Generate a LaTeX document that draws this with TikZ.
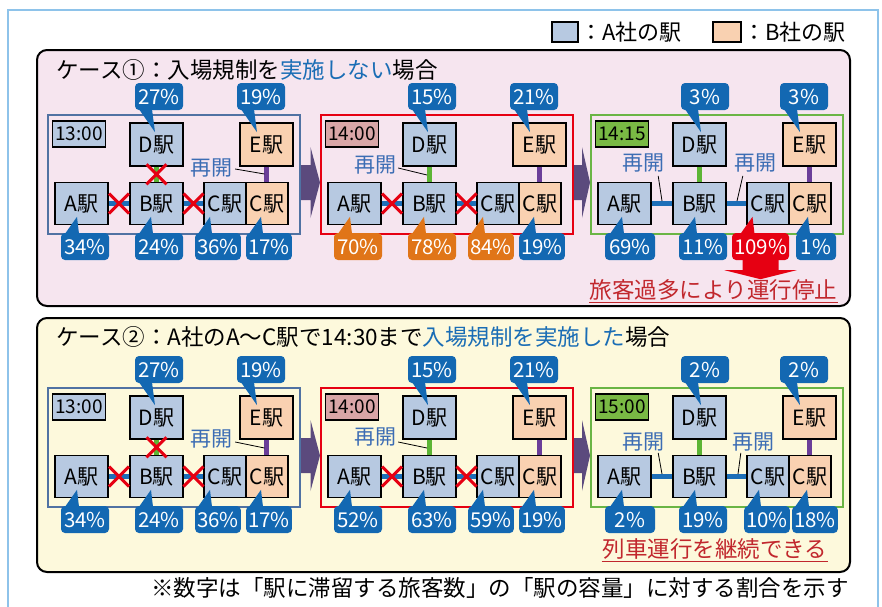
\documentclass[tikz,border=0pt]{standalone}
\usepackage{fontspec}
\setmainfont{Noto Sans CJK JP}
\usepackage{xcolor}
\definecolor{stnblue}{HTML}{B7C9E1}
\definecolor{stnpeach}{HTML}{F9D1B1}
\definecolor{callblue}{HTML}{1368B2}
\definecolor{callorange}{HTML}{E07518}
\definecolor{alertred}{HTML}{E60012}
\definecolor{linkblue}{HTML}{1D6FB8}
\definecolor{linkgreen}{HTML}{5DB535}
\definecolor{linkpurple}{HTML}{6B3E99}
\definecolor{frameslate}{HTML}{5072A3}
\definecolor{framegreen}{HTML}{6AB545}
\definecolor{timepink}{HTML}{D9A6A7}
\definecolor{timegreen}{HTML}{79B944}
\definecolor{stagepurple}{HTML}{5B4A7D}
\definecolor{reopenblue}{HTML}{3C6DB4}
\definecolor{titleblue}{HTML}{1A6DB5}
\definecolor{outerblue}{HTML}{8EC3EA}
\definecolor{pinkbg}{HTML}{F6E5EF}
\definecolor{yellowbg}{HTML}{FDF9DC}
\definecolor{statusred}{HTML}{C1272D}
\usepackage{tikz}
\usetikzlibrary{calc,shapes.misc}
\tikzset{
    panel/.style={draw=black, line width=2, rounded corners=10, anchor=north west, inner sep=0, outer sep=0},
    stageframe/.style={line width=2, minimum width=252, minimum height=119, anchor=north west, inner sep=0, outer sep=0},
    station/.style={draw=black, line width=1.2, minimum width=53, minimum height=42, inner sep=0, font=\fontsize{21}{21}\selectfont},
    stnA/.style={station, fill=stnblue},
    stnB/.style={station, fill=stnpeach},
    timebox/.style={draw=black, line width=1.2, minimum width=53, minimum height=26, inner sep=0, font=\fontsize{19}{19}\selectfont},
    pctbox/.style={rounded corners=4, text=white, minimum height=27, inner xsep=2, inner ysep=0, font=\fontsize{20.5}{20.5}\selectfont},
    link/.style={line width=5},
    cutmark/.style={cross out, draw=alertred, line width=3, minimum size=17, inner sep=0},
    reopen/.style={text=reopenblue, inner sep=0, font=\fontsize{21}{21}\selectfont},
    leader/.style={black, line width=0.8},
    casetitle/.style={anchor=west, inner sep=0, font=\fontsize{22.5}{22.5}\selectfont},
    keytext/.style={anchor=west, inner sep=0, font=\fontsize{22}{22}\selectfont},
    status/.style={text=statusred, inner xsep=1, inner ysep=2, font=\fontsize{22.5}{22.5}\selectfont},
    statusline/.style={statusred, line width=1.2}
}
% one time step: frame, clock, stations and lines
\newcommand\stationset[3]{%
  \node[stageframe, draw=#1] (F) at (0,0) {};
  \node[timebox, fill=#3] (T) at (31,19) {#2};
  \node[stnA, minimum height=43] (D) at (108.5,29.5) {D駅};
  \node[stnB, minimum height=43] (E) at (218.5,29.5) {E駅};
  \node[stnA] (A) at (33.5,88.5) {A駅};
  \node[stnA] (B) at (108.5,88.5) {B駅};
  \node[stnA, minimum width=42] (CA) at (177,88.5) {C駅};
  \node[stnB, minimum width=42] (CB) at (219,88.5) {C駅};
  \draw[link, linkblue] (A) -- (B);
  \draw[link, linkblue] (B) -- (CA);
  \draw[link, linkgreen] (D) -- (B);
  \draw[link, linkpurple] (E.south) -- (E.south |- CB.north);
}
% percentage above a station
\newcommand\topcall[3]{%
  \node[pctbox, fill=callblue, minimum width=48] (#1p) at (#2,-18.5) {#3};
  \fill[callblue] ([xshift=-20,yshift=1]#1p.south) -- ([xshift=-7,yshift=1]#1p.south) -- ([xshift=-4,yshift=-22]#1p.south) -- cycle;
}
% percentage below a station
\newcommand\botcall[5]{%
  \node[pctbox, fill=#3, minimum width=#4] (#1p) at (#2,131.5) {#5};
  \fill[#3] ([xshift=-20,yshift=-1]#1p.north) -- ([xshift=-6,yshift=-1]#1p.north) -- ([xshift=-8,yshift=16]#1p.north) -- cycle;
}
% block arrow between two time steps
\newcommand\stagearrow[2]{%
  \coordinate (sa) at ($(#1.east)+(1,8)$);
  \coordinate (sb) at ($(#2.west)+(-1,8)$);
  \coordinate (sm) at ($(sa)!0.5!(sb)$);
  \fill[stagepurple] ($(sa)+(0,-17.5)$) -- ($(sm)+(0,-17.5)$) -- ($(sm)+(0,-35.5)$) -- (sb)
    -- ($(sm)+(0,35.5)$) -- ($(sm)+(0,17.5)$) -- ($(sa)+(0,17.5)$) -- cycle;
}

\begin{document}
\begin{tikzpicture}[x=1pt, y=-1pt]
\useasboundingbox (0,0) rectangle (882,606);
\draw[outerblue, line width=1.5] (8,607) -- (8,10) -- (878,10) -- (878,607);

% legend
\node[stnA, minimum width=26, minimum height=20] (keyA) at (565,32) {};
\node[keytext] (keyAtext) at (580,32) {：A社の駅};
\node[stnB, minimum width=28, minimum height=20] (keyB) at (727,32) {};
\node[keytext] (keyBtext) at (743,32) {：B社の駅};

% case 1
\node[panel, fill=pinkbg, minimum width=813, minimum height=256] (case1) at (37,50) {};
\node[casetitle] (title1) at (56,70) {ケース①：入場規制を{\color{titleblue}実施しない}場合};

\begin{scope}[shift={(48,115)}, name prefix=p1a-]
  \stationset{frameslate}{13:00}{stnblue}
  \path (A) -- node[cutmark] (xAB) {} (B);
  \path (B) -- node[cutmark] (xBC) {} (CA);
  \path (D) -- node[cutmark] (xDB) {} (B);
  \node[reopen] (R1) at (163.5,53) {再開};
  \coordinate (J1) at (216.5,59);
  \draw[leader] ([xshift=2.5,yshift=-1]R1.east) -- (J1);
  \topcall{D}{111}{27\%}
  \topcall{E}{213}{19\%}
  \botcall{A}{37}{callblue}{48}{34\%}
  \botcall{B}{111}{callblue}{48}{24\%}
  \botcall{CA}{170}{callblue}{40}{36\%}
  \botcall{CB}{221}{callblue}{40}{17\%}
\end{scope}

\begin{scope}[shift={(321,115)}, name prefix=p1b-]
  \stationset{alertred}{14:00}{timepink}
  \path (A) -- node[cutmark] (xAB) {} (B);
  \path (B) -- node[cutmark] (xBC) {} (CA);
  \node[reopen] (R1) at (54,50) {再開};
  \coordinate (J1) at (106,60);
  \draw[leader] ([xshift=2,yshift=-3]R1.east) -- (J1);
  \topcall{D}{111}{15\%}
  \topcall{E}{213}{21\%}
  \botcall{A}{37}{callorange}{48}{70\%}
  \botcall{B}{111}{callorange}{48}{78\%}
  \botcall{CA}{170}{callorange}{40}{84\%}
  \botcall{CB}{221}{callblue}{40}{19\%}
\end{scope}

\begin{scope}[shift={(591,115)}, name prefix=p1c-]
  \stationset{framegreen}{14:15}{timegreen}
  \node[reopen] (R1) at (52.5,48) {再開};
  \node[reopen] (R2) at (164.5,48) {再開};
  \coordinate (J1) at (71,86);
  \coordinate (J2) at (146,86);
  \draw[leader] ([xshift=-6.5,yshift=-3.5]R1.south east) -- (J1);
  \draw[leader] ([xshift=8.5,yshift=-3.5]R2.south west) -- (J2);
  \topcall{D}{114}{3\%}
  \topcall{E}{213}{3\%}
  \botcall{A}{39}{callblue}{50}{69\%}
  \botcall{B}{112}{callblue}{48}{11\%}
  \botcall{CA}{169.5}{alertred}{45}{109\%}
  \botcall{CB}{225}{callblue}{40}{1\%}
  \fill[alertred] ([xshift=-18,yshift=1]CAp.south) -- ([xshift=18,yshift=1]CAp.south) -- ([xshift=18,yshift=-10]CAp.south)
    -- ([xshift=36,yshift=-10]CAp.south) -- ([yshift=-19]CAp.south) -- ([xshift=-36,yshift=-10]CAp.south)
    -- ([xshift=-18,yshift=-10]CAp.south) -- cycle;
\end{scope}

\stagearrow{p1a-F}{p1b-F}
\stagearrow{p1b-F}{p1c-F}
\node[status] (stop1) at (713.5,290) {旅客過多により運行停止};
\draw[statusline] (stop1.south west) -- (stop1.south east);

% case 2
\node[panel, fill=yellowbg, minimum width=813, minimum height=254] (case2) at (37,318) {};
\node[casetitle] (title2) at (56,337) {ケース②：A社のA～C駅で14:30まで{\color{titleblue}入場規制を実施した}場合};

\begin{scope}[shift={(48,388)}, name prefix=p2a-]
  \stationset{frameslate}{13:00}{stnblue}
  \path (A) -- node[cutmark] (xAB) {} (B);
  \path (B) -- node[cutmark] (xBC) {} (CA);
  \path (D) -- node[cutmark] (xDB) {} (B);
  \node[reopen] (R1) at (163.5,51) {再開};
  \coordinate (J1) at (216.5,60);
  \draw[leader] ([xshift=2.5,yshift=-3]R1.east) -- (J1);
  \topcall{D}{111}{27\%}
  \topcall{E}{213}{19\%}
  \botcall{A}{37}{callblue}{48}{34\%}
  \botcall{B}{111}{callblue}{48}{24\%}
  \botcall{CA}{170}{callblue}{40}{36\%}
  \botcall{CB}{221}{callblue}{40}{17\%}
\end{scope}

\begin{scope}[shift={(321,388)}, name prefix=p2b-]
  \stationset{alertred}{14:00}{timepink}
  \path (A) -- node[cutmark] (xAB) {} (B);
  \path (B) -- node[cutmark] (xBC) {} (CA);
  \node[reopen] (R1) at (54,49) {再開};
  \coordinate (J1) at (106,60);
  \draw[leader] ([xshift=2,yshift=-5]R1.east) -- (J1);
  \topcall{D}{111}{15\%}
  \topcall{E}{213}{21\%}
  \botcall{A}{37}{callblue}{48}{52\%}
  \botcall{B}{111}{callblue}{48}{63\%}
  \botcall{CA}{170}{callblue}{40}{59\%}
  \botcall{CB}{221}{callblue}{40}{19\%}
\end{scope}

\begin{scope}[shift={(591,388)}, name prefix=p2c-]
  \stationset{framegreen}{15:00}{timegreen}
  \node[reopen] (R1) at (52.5,54) {再開};
  \node[reopen] (R2) at (162.5,54) {再開};
  \coordinate (J1) at (71,86);
  \coordinate (J2) at (147,86);
  \draw[leader] ([xshift=-6.5,yshift=-1.5]R1.south east) -- (J1);
  \draw[leader] ([xshift=8.5,yshift=-1.5]R2.south west) -- (J2);
  \topcall{D}{114}{2\%}
  \topcall{E}{213}{2\%}
  \botcall{A}{39}{callblue}{50}{2\%}
  \botcall{B}{112}{callblue}{48}{19\%}
  \botcall{CA}{176}{callblue}{40}{10\%}
  \botcall{CB}{224}{callblue}{40}{18\%}
\end{scope}

\stagearrow{p2a-F}{p2b-F}
\stagearrow{p2b-F}{p2c-F}
\node[status] (go2) at (715,549) {列車運行を継続できる};
\draw[statusline] (go2.south west) -- (go2.south east);

\node[keytext, anchor=east, font=\fontsize{22.5}{22.5}\selectfont] (note) at (849,588) {※数字は「駅に滞留する旅客数」の「駅の容量」に対する割合を示す};
\end{tikzpicture}
\end{document}
